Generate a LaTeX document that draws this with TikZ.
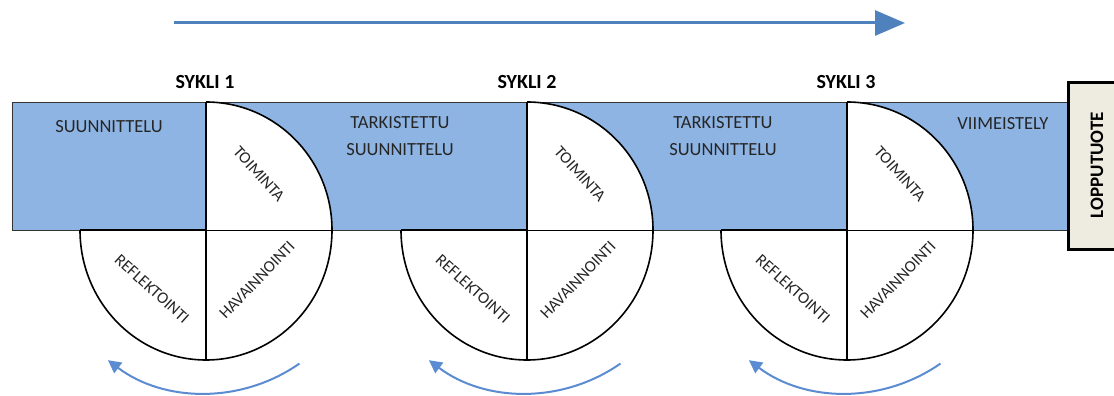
\documentclass[tikz,border=0pt]{standalone}
\usepackage{fontspec}
\setmainfont{Carlito}
\usetikzlibrary{arrows.meta}
\definecolor{bandblue}{HTML}{8EB4E3}
\definecolor{arrowblue}{HTML}{4F81BD}
\definecolor{cycblue}{HTML}{5B8BD0}
\definecolor{tanbox}{HTML}{EEECE1}
\definecolor{txt}{HTML}{262626}
\begin{document}
\begin{tikzpicture}[x=1pt,y=1pt,
  band/.style={fill=bandblue,draw=black!80,line width=0.9pt},
  lbl/.style={font=\fontsize{18.5}{27}\selectfont,text=txt,align=center,inner sep=0pt},
  seg/.style={font=\fontsize{16.5}{19}\selectfont,text=txt,inner sep=0pt},
  cyc/.style={font=\bfseries\fontsize{20}{24}\selectfont,inner sep=0pt},
  arcline/.style={draw=black,line width=1.6pt},
  thinline/.style={draw=black,line width=0.9pt},
  cycarrow/.style={draw=cycblue,line width=2pt,-{Triangle[length=13pt,width=13pt]}},
  toparrow/.style={draw=arrowblue,line width=3pt,-{Triangle[length=30pt,width=25pt]}}]
\useasboundingbox (0,0) rectangle (1114,396);
% top arrow
\coordinate (a0) at (174,373);
\coordinate (a1) at (905,373);
\draw[toparrow] (a0) -- (a1);
% band
\draw[band] (12,166) rectangle (206,294);
\draw[band] (206,166) rectangle (527,294);
\draw[band] (527,166) rectangle (847,294);
\draw[band] (847,166) rectangle (1068,294);
% end box
\fill[tanbox] (1068,146) rectangle (1116,313);
\draw[black,line width=3pt] (1116,313) -- (1068,313) -- (1068,146) -- (1116,146);
\node[cyc,rotate=90,font=\bfseries\fontsize{19}{22}\selectfont] (lop) at (1097,231) {LOPPUTUOTE};
% cycles
\foreach \c/\n in {206/1,527/2,847/3}{
  \coordinate (c\n) at (\c,166);
  \fill[white] (\c,166) -- (\c,294) arc[start angle=90,end angle=0,x radius=126,y radius=128] -- cycle;
  \fill[white] (\c-126,166) arc[start angle=180,end angle=360,x radius=126,y radius=130] -- cycle;
  \draw[arcline] (\c,294) arc[start angle=90,end angle=0,x radius=126,y radius=128]
     arc[start angle=0,end angle=-180,x radius=126,y radius=130];
  \draw[arcline] (\c-126,166) -- (c\n);
  \draw[thinline] (c\n) -- (\c+126,166);
  \draw[arcline] (\c,294) -- (\c,36);
  \node[seg,rotate=-48] (toi\n) at (\c+53,222) {TOIMINTA};
  \node[seg,rotate=46] (hav\n) at (\c+51,116) {HAVAINNOINTI};
  \node[seg,rotate=-42] (ref\n) at (\c-54,107) {REFLEKTOINTI};
  \coordinate (r\n) at ([shift={(-55:163)}]c\n);
  \draw[cycarrow] (r\n) arc[start angle=-55,end angle=-127,radius=163];
}
% texts
\node[lbl] (suun) at (109,269) {SUUNNITTELU};
\node[lbl] (tark2) at (400,259.5) {TARKISTETTU\\SUUNNITTELU};
\node[lbl] (tark3) at (723,259.5) {TARKISTETTU\\SUUNNITTELU};
\node[lbl] (viim) at (1003,272) {VIIMEISTELY};
\node[cyc] (sy1) at (205,314) {SYKLI 1};
\node[cyc] (sy2) at (527,314) {SYKLI 2};
\node[cyc] (sy3) at (846,314) {SYKLI 3};
\end{tikzpicture}
\end{document}
